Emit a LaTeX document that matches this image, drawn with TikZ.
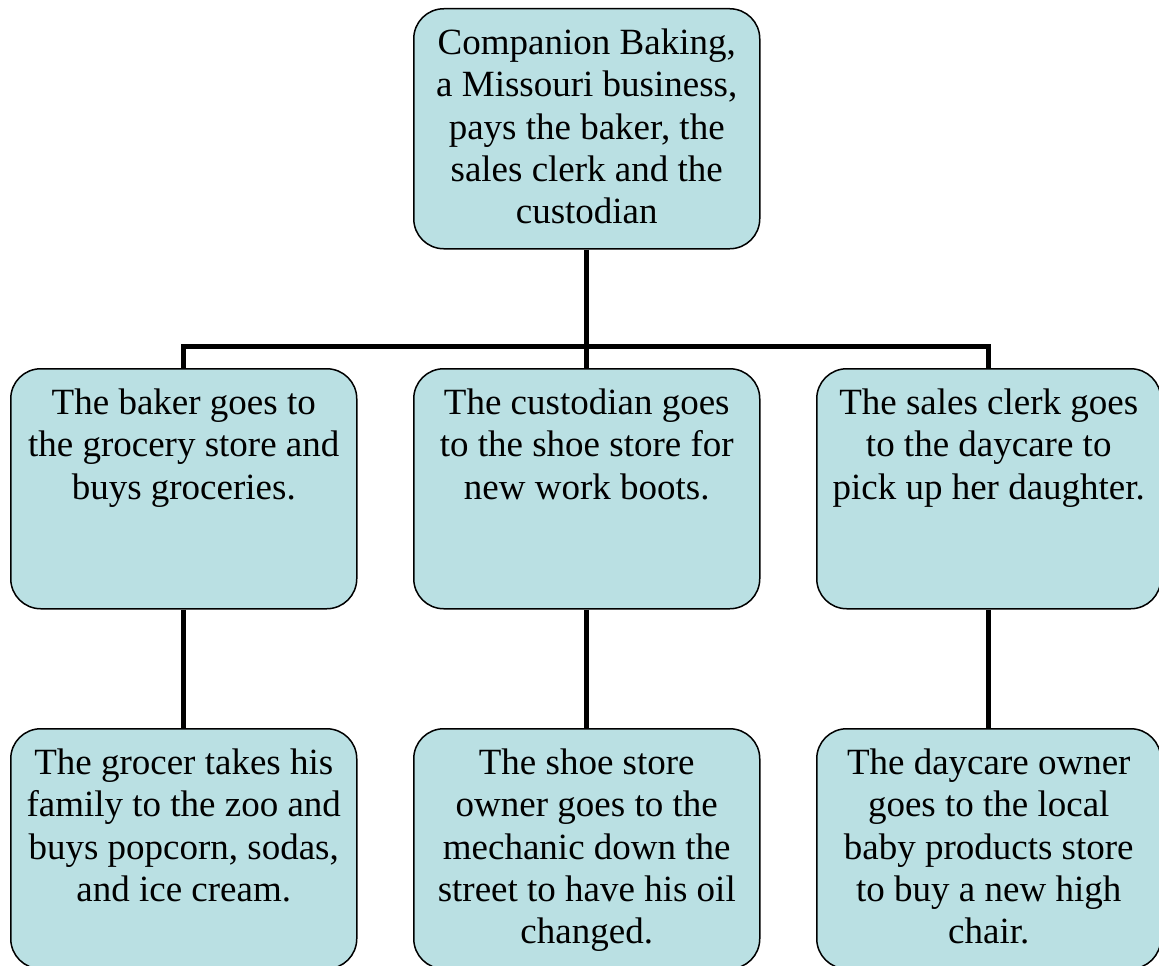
\documentclass[tikz,border=0pt]{standalone}
\usepackage{fontspec}
\setmainfont{Liberation Serif}
\usetikzlibrary{backgrounds}
\definecolor{boxfill}{RGB}{186,224,227}
\tikzset{
  box/.style={draw=black, line width=1.5pt, fill=boxfill, rounded corners=30pt,
    minimum width=346pt, minimum height=240pt, inner sep=0pt, anchor=north west},
  conn/.style={draw=black, line width=5pt}
}
\newcommand{\boxtext}[1]{\begin{minipage}[c][240pt][t]{344pt}\centering\fontsize{37}{42.3}\selectfont\vspace{20pt}#1\end{minipage}}
\begin{document}
\begin{tikzpicture}[x=1pt,y=-1pt]
\useasboundingbox (0,0) rectangle (1159,966);
\node[box] (top) at (413,8) {\boxtext{Companion Baking,\\ a Missouri business,\\ pays the baker, the\\ sales clerk and the\\ custodian}};
\node[box] (b1) at (10,368) {\boxtext{The baker goes to\\ the grocery store and\\ buys groceries.}};
\node[box] (b2) at (413,368) {\boxtext{The custodian goes\\ to the shoe store for\\ new work boots.}};
\node[box, minimum width=344pt] (b3) at (816,368) {\boxtext{The sales clerk goes\\ to the daycare to\\ pick up her daughter.}};
\node[box] (c1) at (10,728) {\boxtext{The grocer takes his\\ family to the zoo and\\ buys popcorn, sodas,\\ and ice cream.}};
\node[box] (c2) at (413,728) {\boxtext{The shoe store\\ owner goes to the\\ mechanic down the\\ street to have his oil\\ changed.}};
\node[box, minimum width=344pt] (c3) at (816,728) {\boxtext{The daycare owner\\ goes to the local\\ baby products store\\ to buy a new high\\ chair.}};
\path (top.south) ++(0,97) coordinate (j);
\begin{pgfonlayer}{background}
\draw[conn] (top.south) -- (j);
\draw[conn] (b1.north) |- (j) -| (b3.north);
\draw[conn] (j) -- (b2.north);
\draw[conn] (b1.south) -- (c1.north);
\draw[conn] (b2.south) -- (c2.north);
\draw[conn] (b3.south) -- (c3.north);
\end{pgfonlayer}
\end{tikzpicture}
\end{document}
